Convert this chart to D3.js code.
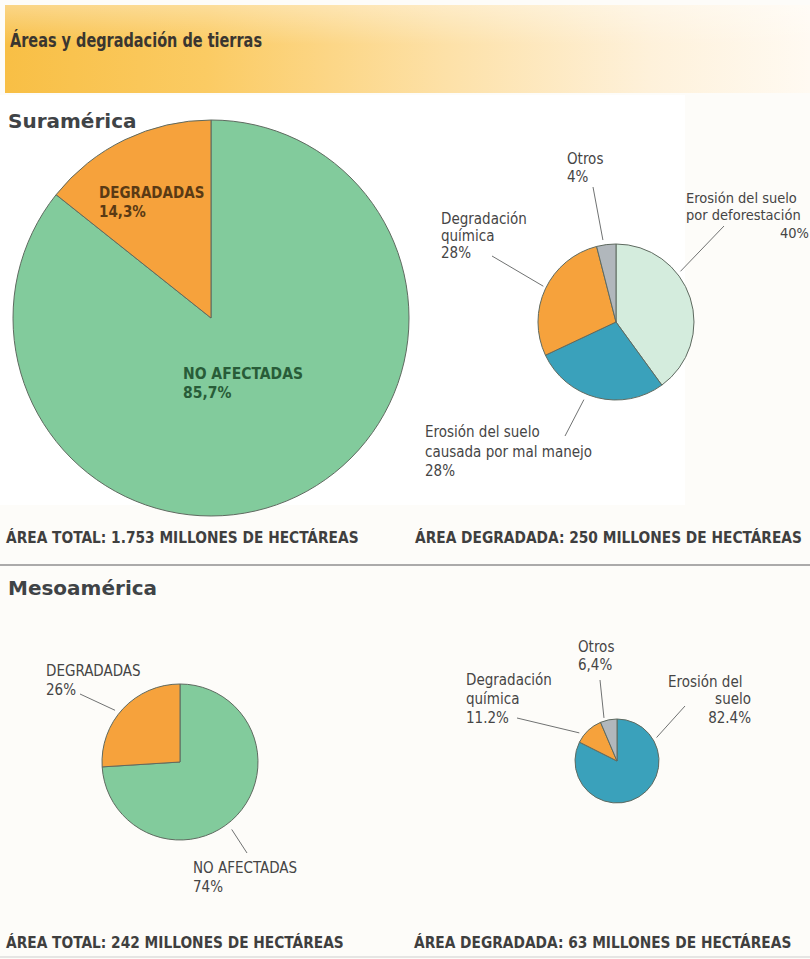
<!DOCTYPE html>
<html><head><meta charset="utf-8">
<script src="https://cdn.jsdelivr.net/npm/d3@7"></script>
<style>
body{margin:0;background:#fff;}
svg{display:block;}
text{font-family:"DejaVu Sans Condensed","DejaVu Sans",sans-serif;font-stretch:condensed;}
</style></head>
<body><svg id="c" width="810" height="959"></svg>
<script>
// ---- data ----
const title = "Áreas y degradación de tierras";
const regions = ["Suramérica", "Mesoamérica"];
const saTotalCats = ["NO AFECTADAS", "DEGRADADAS"];
const saTotalVals = [85.7, 14.3];
const saTotalLbls = ["85,7%", "14,3%"];
const saDegCats = ["Erosión del suelo por deforestación", "Erosión del suelo causada por mal manejo", "Degradación química", "Otros"];
const saDegVals = [40, 28, 28, 4];
const saDegLbls = ["40%", "28%", "28%", "4%"];
const meTotalCats = ["NO AFECTADAS", "DEGRADADAS"];
const meTotalVals = [74, 26];
const meTotalLbls = ["74%", "26%"];
const meDegCats = ["Erosión del suelo", "Degradación química", "Otros"];
const meDegVals = [82.4, 11.2, 6.4];
const meDegLbls = ["82.4%", "11.2%", "6,4%"];
const footers = ["ÁREA TOTAL: 1.753 MILLONES DE HECTÁREAS", "ÁREA DEGRADADA: 250 MILLONES DE HECTÁREAS",
                 "ÁREA TOTAL: 242 MILLONES DE HECTÁREAS", "ÁREA DEGRADADA: 63 MILLONES DE HECTÁREAS"];

const colorMap = {
  "NO AFECTADAS": "#82cb9c", "DEGRADADAS": "#f6a23c",
  "Erosión del suelo por deforestación": "#d4ecdd",
  "Erosión del suelo causada por mal manejo": "#3aa1bb",
  "Erosión del suelo": "#3aa1bb",
  "Degradación química": "#f6a23c", "Otros": "#b1b7bc"
};

const svg = d3.select("#c");
const defs = svg.append("defs");
const g1 = defs.append("linearGradient").attr("id","ban").attr("x1","0").attr("x2","1").attr("y1","0").attr("y2","0");
[["0%","#f8bf45"],["25%","#fbcb63"],["55%","#fde1a8"],["80%","#fef1da"],["100%","#fffaf2"]].forEach(s=>g1.append("stop").attr("offset",s[0]).attr("stop-color",s[1]));
const g2 = defs.append("linearGradient").attr("id","banv").attr("x1","0").attr("x2","0").attr("y1","0").attr("y2","1");
[["0%","#ffffff",0.35],["45%","#ffffff",0],["100%","#ffffff",0]].forEach(s=>g2.append("stop").attr("offset",s[0]).attr("stop-color",s[1]).attr("stop-opacity",s[2]));

svg.append("rect").attr("x",0).attr("y",0).attr("width",810).attr("height",959).attr("fill","#fdfcf9");
svg.append("rect").attr("x",5).attr("y",5).attr("width",805).attr("height",88).attr("fill","url(#ban)");
svg.append("rect").attr("x",5).attr("y",5).attr("width",805).attr("height",88).attr("fill","url(#banv)");
svg.append("rect").attr("x",0).attr("y",95).attr("width",685).attr("height",410).attr("fill","#ffffff");

svg.append("text").attr("x",10).attr("y",47).attr("font-size",19).attr("font-weight","bold")
  .attr("textLength",252).attr("lengthAdjust","spacingAndGlyphs")
  .attr("fill","#3a3630").text(title);

svg.append("text").attr("x",8).attr("y",128).attr("font-size",20).attr("font-weight","bold")
  .attr("fill","#3f4346").style("font-family","'DejaVu Sans',sans-serif").style("font-stretch","normal").text(regions[0]);
svg.append("line").attr("x1",0).attr("x2",810).attr("y1",565).attr("y2",565).attr("stroke","#8f8f8f").attr("stroke-width",1.5);
svg.append("text").attr("x",8).attr("y",595).attr("font-size",20).attr("font-weight","bold")
  .attr("fill","#3f4346").style("font-family","'DejaVu Sans',sans-serif").style("font-stretch","normal").text(regions[1]);
svg.append("line").attr("x1",0).attr("x2",810).attr("y1",957).attr("y2",957).attr("stroke","#cfcfcf").attr("stroke-width",1);

function pieChart(cats, vals, cx, cy, r) {
  const data = cats.map((c,i)=>({c, v: vals[i], i}));
  const arcs = d3.pie().sort(null).value(d=>d.v)(data);
  const arc = d3.arc().innerRadius(0).outerRadius(r);
  const g = svg.append("g").attr("transform",`translate(${cx},${cy})`);
  g.selectAll("path").data(arcs).join("path").attr("d",arc)
    .attr("fill",d=>colorMap[d.data.c]).attr("stroke","#5f6a60").attr("stroke-width",1);
  return {arcs, cx, cy, r};
}
function textBlock(lines, x, y, size, anchor, fill, weight, lh) {
  const t = svg.append("text").attr("x",x).attr("y",y).attr("font-size",size).attr("text-anchor",anchor)
    .attr("fill",fill).attr("font-weight",weight||"normal");
  lines.forEach((l,i)=>t.append("tspan").attr("x",x).attr("dy", i===0?0:lh).text(l));
}
// leader from label point (x1,y1) to a point just outside the pie rim (at a fraction of the slice)
function leader(p, idx, frac, ext, x1, y1) {
  const a = p.arcs[idx];
  const ang = a.startAngle + (a.endAngle - a.startAngle) * frac;
  const rr = p.r + ext;
  const x2 = p.cx + Math.sin(ang) * rr, y2 = p.cy - Math.cos(ang) * rr;
  svg.append("line").attr("x1",x1).attr("y1",y1).attr("x2",x2).attr("y2",y2).attr("stroke","#707272").attr("stroke-width",1);
}

const LBL = "#454545";
// ---- Suramérica total ----
const p1 = pieChart(saTotalCats, saTotalVals, 211, 318, 198);
textBlock([saTotalCats[1], saTotalLbls[1]], 99, 198, 15, "start", "#5a3a14", "bold", 19);
textBlock([saTotalCats[0], saTotalLbls[0]], 183, 379, 15.5, "start", "#285c38", "bold", 19);

// ---- Suramérica degradada ----
const p2 = pieChart(saDegCats, saDegVals, 616, 322, 78);
textBlock(["Otros", saDegLbls[3]], 567, 164, 15, "start", LBL, "normal", 18);
leader(p2, 3, 0.37, 5, 593, 187);
textBlock(["Degradación", "química", saDegLbls[2]], 441, 224, 15, "start", LBL, "normal", 17);
leader(p2, 2, 0.51, 3, 492, 256);
textBlock(["Erosión del suelo", "por deforestación"], 686, 203, 14.5, "start", LBL, "normal", 17);
textBlock([saDegLbls[0]], 809, 238, 14.5, "end", LBL, "normal", 0);
leader(p2, 0, 0.36, 4, 724, 226);
textBlock(["Erosión del suelo", "causada por mal manejo", saDegLbls[1]], 425, 437, 15, "start", LBL, "normal", 19.5);
leader(p2, 1, 0.58, 6, 565, 436);

textBlock([footers[0]], 6, 543, 15.3, "start", "#3f3f3f", "bold", 0);
textBlock([footers[1]], 415, 543, 15.3, "start", "#3f3f3f", "bold", 0);

// ---- Mesoamérica total ----
const p3 = pieChart(meTotalCats, meTotalVals, 180, 762, 78);
textBlock([meTotalCats[1], meTotalLbls[1]], 46, 676, 15, "start", LBL, "normal", 19);
leader(p3, 1, 0.45, 5, 80, 694);
textBlock([meTotalCats[0], meTotalLbls[0]], 193, 873, 15, "start", LBL, "normal", 19);
leader(p3, 0, 0.535, 7, 247, 853);

// ---- Mesoamérica degradada ----
const p4 = pieChart(meDegCats, meDegVals, 617, 761, 42);
textBlock(["Otros", meDegLbls[2]], 578, 652, 15, "start", LBL, "normal", 18);
leader(p4, 2, 0.27, 3, 600, 680);
textBlock(["Degradación", "química", meDegLbls[1]], 466, 685, 15, "start", LBL, "normal", 19);
leader(p4, 1, 0.25, 5, 517, 718);
textBlock(["Erosión del"], 668, 687, 15, "start", LBL, "normal", 0);
textBlock(["suelo", meDegLbls[0]], 751, 704, 15, "end", LBL, "normal", 19);
leader(p4, 0, 0.2, 4, 685, 706);

textBlock([footers[2]], 6, 948, 15.3, "start", "#3f3f3f", "bold", 0);
textBlock([footers[3]], 414, 948, 15.3, "start", "#3f3f3f", "bold", 0);
</script></body></html>
